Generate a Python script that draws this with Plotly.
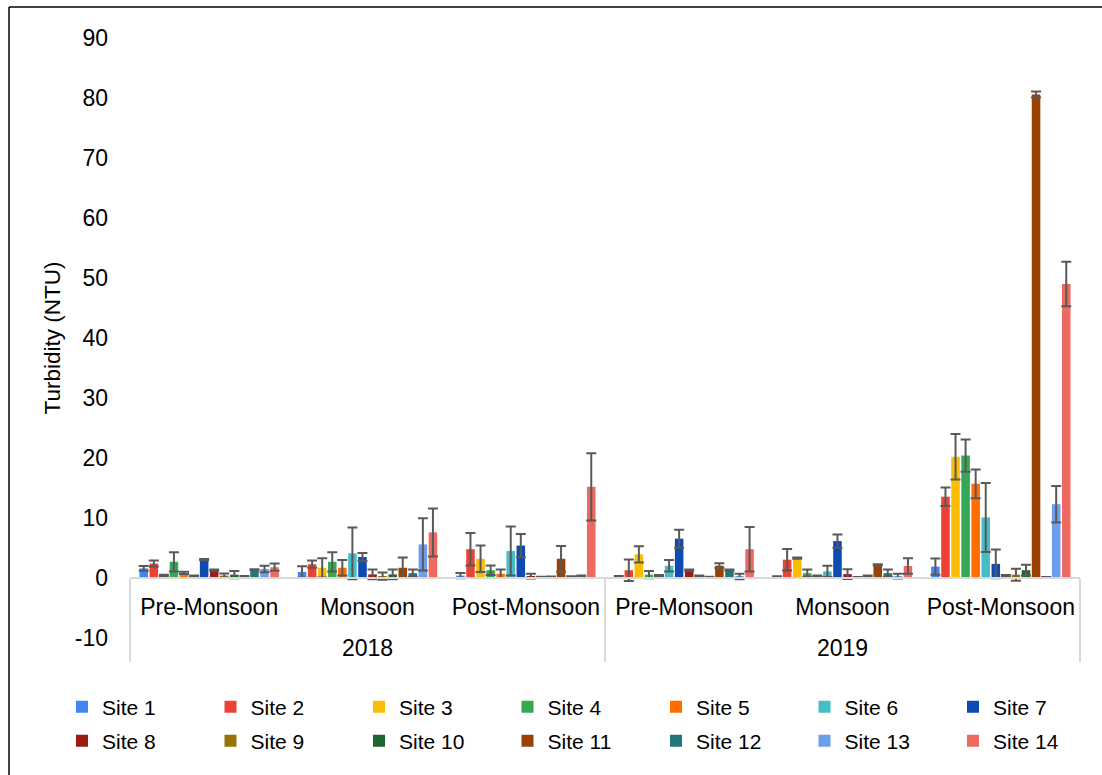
import plotly.graph_objects as go

years = ["2018", "2018", "2018", "2019", "2019", "2019"]
seasons = ["Pre-Monsoon", "Monsoon", "Post-Monsoon", "Pre-Monsoon", "Monsoon", "Post-Monsoon"]

y_tick_values = [-10, 0, 10, 20, 30, 40, 50, 60, 70, 80, 90]
y_tick_labels = ["-10", "0", "10", "20", "30", "40", "50", "60", "70", "80", "90"]

site_names = ["Site 1", "Site 2", "Site 3", "Site 4", "Site 5", "Site 6", "Site 7",
              "Site 8", "Site 9", "Site 10", "Site 11", "Site 12", "Site 13", "Site 14"]
site_colors = ["#4285F4", "#EA4335", "#FBBC04", "#34A853", "#FF6D01", "#46BDC6", "#0D4BB2",
               "#9C1B13", "#977300", "#1E6531", "#9C4200", "#23777A", "#6D9EEB", "#EE6A60"]

site1_mean = [1.6, 1.0, 0.4, 0.3, 0.25, 1.9]
site1_err = [0.4, 0.95, 0.45, 0.05, 0.05, 1.35]
site2_mean = [2.4, 2.3, 4.8, 1.3, 3.05, 13.55]
site2_err = [0.5, 0.6, 2.7, 1.8, 1.8, 1.55]
site3_mean = [0.45, 1.7, 3.2, 3.95, 3.3, 20.2]
site3_err = [0.1, 1.6, 2.2, 1.35, 0.1, 3.8]
site4_mean = [2.7, 2.7, 1.3, 0.55, 0.8, 20.4]
site4_err = [1.6, 1.6, 0.8, 0.6, 0.6, 2.7]
site5_mean = [0.85, 1.7, 0.7, 0.4, 0.3, 15.7]
site5_err = [0.2, 1.3, 0.7, 0.1, 0.1, 2.4]
site6_mean = [0.35, 4.1, 4.5, 2.05, 1.1, 10.1]
site6_err = [0.05, 4.3, 4.1, 0.95, 0.95, 5.75]
site7_mean = [3.05, 3.5, 5.4, 6.55, 6.15, 2.35]
site7_err = [0.1, 0.65, 1.95, 1.5, 1.1, 2.4]
site8_mean = [1.3, 0.6, 0.3, 1.3, 0.65, 0.35]
site8_err = [0.1, 0.8, 0.4, 0.1, 0.8, 0.15]
site9_mean = [0.4, 0.3, 0.1, 0.3, 0.1, 0.55]
site9_err = [0.35, 0.6, 0.1, 0.1, 0.05, 1.0]
site10_mean = [0.55, 0.6, 0.15, 0.15, 0.3, 1.3]
site10_err = [0.6, 0.8, 0.1, 0.05, 0.1, 0.9]
site11_mean = [0.3, 1.7, 3.2, 2.05, 2.2, 80.6]
site11_err = [0.05, 1.7, 2.15, 0.4, 0.1, 0.5]
site12_mean = [1.4, 0.8, 0.2, 1.3, 0.8, 0.1]
site12_err = [0.05, 0.6, 0.1, 0.1, 0.6, 0.05]
site13_mean = [1.5, 5.6, 0.3, 0.25, 0.3, 12.3]
site13_err = [0.55, 4.35, 0.1, 0.45, 0.4, 3.05]
site14_mean = [1.8, 7.6, 15.2, 4.8, 2.0, 49.0]
site14_err = [0.6, 4.0, 5.6, 3.7, 1.3, 3.7]

means = [site1_mean, site2_mean, site3_mean, site4_mean, site5_mean, site6_mean, site7_mean,
         site8_mean, site9_mean, site10_mean, site11_mean, site12_mean, site13_mean, site14_mean]
errs = [site1_err, site2_err, site3_err, site4_err, site5_err, site6_err, site7_err,
        site8_err, site9_err, site10_err, site11_err, site12_err, site13_err, site14_err]

FONT = "Liberation Sans, Arial, sans-serif"

# taller (invisible-space) padding around season labels to widen the gap to the year row
PAD = "<span style='font-size:42px'>&nbsp;</span>"
season_labels = [PAD + s + PAD for s in seasons]

fig = go.Figure()
for i, (name, color, m, e) in enumerate(zip(site_names, site_colors, means, errs)):
    fig.add_trace(go.Bar(
        name=name,
        x=[years, season_labels],
        y=m,
        marker=dict(color=color, line=dict(width=0)),
        error_y=dict(type="data", array=e, visible=True, color="#595959",
                     thickness=2, width=5),
        legend="legend" if i < 7 else "legend2",
    ))

# plot area: x 130..1080, y 38..638
W, H = 950.0, 600.0
def px(x):
    return (x - 130) / W
def py(y):
    return (638 - y) / H

legend_common = dict(
    orientation="h", xanchor="left", yanchor="middle",
    entrywidth=103.5, entrywidthmode="pixels",
    font=dict(size=21, family=FONT, color="#000000"),
    bgcolor="rgba(0,0,0,0)", traceorder="normal",
)

fig.update_layout(
    width=1102, height=775,
    margin=dict(l=130, r=22, t=38, b=137),
    paper_bgcolor="white", plot_bgcolor="white",
    barmode="group", bargap=0.11, bargroupgap=0.15,
    font=dict(family=FONT, color="#000000"),
    showlegend=True,
    legend=dict(x=px(66), y=py(707), **legend_common),
    legend2=dict(x=px(66), y=py(741), **legend_common),
    xaxis=dict(
        type="multicategory",
        anchor="free", position=py(578),
        showline=True, linecolor="#D9D9D9", linewidth=2,
        showgrid=False, zeroline=False,
        ticks="", ticklabelstandoff=8,
        tickangle=0,
        showdividers=True, dividercolor="#D9D9D9", dividerwidth=2,
        tickfont=dict(size=23, family=FONT, color="#000000"),
        automargin=False,
    ),
    yaxis=dict(
        range=[-10, 90],
        tickmode="array", tickvals=y_tick_values, ticktext=y_tick_labels,
        showgrid=False, zeroline=False, showline=False, ticks="",
        tickfont=dict(size=23, family=FONT, color="#000000"),
        ticklabelstandoff=21,
        title=dict(text="Turbidity (NTU)", font=dict(size=22.5, family=FONT, color="#000000"),
                   standoff=7),
        automargin=False,
    ),
    shapes=[
        dict(type="line", xref="paper", yref="paper", x0=px(9), x1=px(9), y0=py(7), y1=py(776),
             line=dict(color="#000000", width=1.5)),
        dict(type="line", xref="paper", yref="paper", x0=px(9), x1=px(1103), y0=py(7), y1=py(7),
             line=dict(color="#000000", width=1.5)),
    ],
)

fig.write_html("out.html")
